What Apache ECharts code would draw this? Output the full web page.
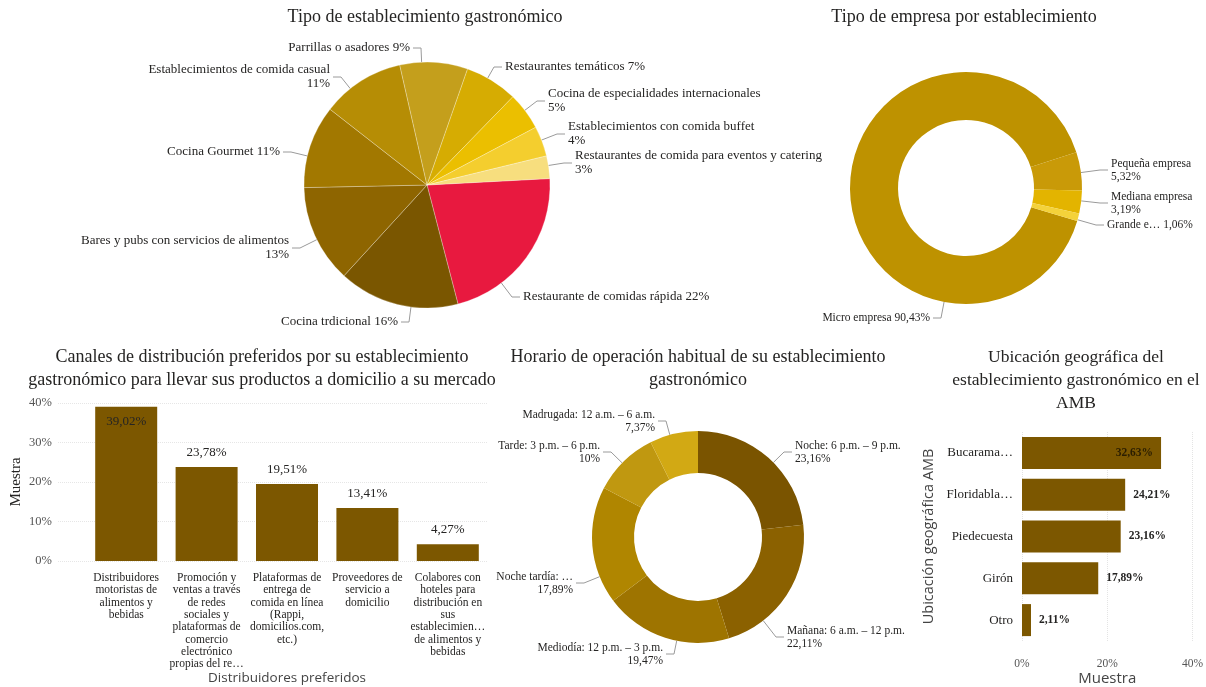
<!DOCTYPE html>
<html>
<head>
<meta charset="utf-8">
<script src="https://cdn.jsdelivr.net/npm/echarts@6/dist/echarts.min.js"></script>
<style>
  html, body { margin: 0; padding: 0; background: #fff; }
  #main { width: 1206px; height: 687px; }
</style>
</head>
<body>
<div id="main"></div>
<script>
const SERIF = '"Liberation Serif", "Times New Roman", serif';
const SANS = '"Open Sans", "Noto Sans", sans-serif';
const TXT = '#252423';

// Tipo de establecimiento gastronómico
const tipoNombres = ['Restaurante de comidas rápida', 'Cocina trdicional', 'Bares y pubs con servicios de alimentos',
  'Cocina Gourmet', 'Establecimientos de comida casual', 'Parrillas o asadores', 'Restaurantes temáticos',
  'Cocina de especialidades internacionales', 'Establecimientos con comida buffet',
  'Restaurantes de comida para eventos y catering'];
const tipoValores = [22, 16, 13, 11, 11, 9, 7, 5, 4, 3];
const tipoDosLineas = ['Bares y pubs con servicios de alimentos', 'Establecimientos de comida casual',
  'Cocina de especialidades internacionales', 'Establecimientos con comida buffet',
  'Restaurantes de comida para eventos y catering'];

// Tipo de empresa por establecimiento
const empresaNombres = ['Micro empresa', 'Pequeña empresa', 'Mediana empresa', 'Grande e…'];
const empresaValores = [90.43, 5.32, 3.19, 1.06];
const empresaDosLineas = ['Pequeña empresa', 'Mediana empresa'];

// Canales de distribución
const canalNombres = ['Distribuidores\nmotoristas de\nalimentos y\nbebidas',
  'Promoción y\nventas a través\nde redes\nsociales y\nplataformas de\ncomercio\nelectrónico\npropias del re…',
  'Plataformas de\nentrega de\ncomida en línea\n(Rappi,\ndomicilios.com,\netc.)',
  'Proveedores de\nservicio a\ndomicilio',
  'Colabores con\nhoteles para\ndistribución en\nsus\nestablecimien…\nde alimentos y\nbebidas'];
const canalValores = [39.02, 23.78, 19.51, 13.41, 4.27];

// Horario de operación
const horarioNombres = ['Noche: 6 p.m. – 9 p.m.', 'Mañana: 6 a.m. – 12 p.m.', 'Mediodía: 12 p.m. – 3 p.m.',
  'Noche tardía: …', 'Tarde: 3 p.m. – 6 p.m.', 'Madrugada: 12 a.m. – 6 a.m.'];
const horarioValores = [23.16, 22.11, 19.47, 17.89, 10, 7.37];

// Ubicación geográfica
const ubicNombres = ['Bucarama…', 'Floridabla…', 'Piedecuesta', 'Girón', 'Otro'];
const ubicValores = [32.63, 24.21, 23.16, 17.89, 2.11];
const ubicTicks = [0, 20, 40];

const coloresTipo = ['#E8193F', '#7A5600', '#8E6500', '#A27800', '#B68D05', '#C49F1C',
  '#D6AC02', '#EBBF00', '#F4CE2E', '#F7DE7E'];
const coloresEmpresa = ['#BE9200', '#C99A08', '#E3B400', '#F4D23A'];
const coloresHorario = ['#7A5400', '#8B6100', '#9E7400', '#B08600', '#C09810', '#D2A914'];
const marron = '#7C5700';

const pct = v => String(v).replace('.', ',') + '%';

// pie geometry and where each label sits (x, y, align)
const pie1 = { c: [427, 185], r: 123 };
const pie1Labels = [[523, 297, 'left'], [398, 322, 'right'], [289, 248, 'right'], [280, 152, 'right'],
  [330, 77, 'right'], [410, 48, 'right'], [505, 67, 'left'], [548, 101, 'left'], [568, 134, 'left'], [575, 163, 'left']];
const pie2 = { c: [966, 188], r: 116 };
const pie2Labels = [[930, 318, 'right'], [1111, 170, 'left'], [1111, 203, 'left'], [1107, 225, 'left']];
const pie3 = { c: [698, 537], r: 106 };
const pie3Labels = [[795, 452, 'left'], [787, 637, 'left'], [663, 654, 'right'], [573, 583, 'right'],
  [600, 452, 'right'], [655, 421, 'right']];

function placer(geo, spots) {
  return function (p) {
    const [x, y, align] = spots[p.dataIndex];
    const s = align === 'right' ? 1 : -1;
    const bend = [x + s * 11, y];
    const dx = bend[0] - geo.c[0], dy = bend[1] - geo.c[1];
    const d = Math.sqrt(dx * dx + dy * dy);
    const anchor = [geo.c[0] + dx / d * geo.r, geo.c[1] + dy / d * geo.r];
    return { x, y, align, verticalAlign: 'middle', labelLinePoints: [anchor, bend, [x + s * 3, y]] };
  };
}

const chart = echarts.init(document.getElementById('main'));

const titleStyle = { fontFamily: SERIF, fontSize: 18, fontWeight: 'normal', color: TXT, lineHeight: 23 };
const lineStyle = { lineStyle: { color: '#9a9a9a', width: 1 } };

chart.setOption({
  animation: false,
  title: [
    { text: 'Tipo de establecimiento gastronómico', left: 425, top: 6, padding: 0, textAlign: 'center', textStyle: titleStyle },
    { text: 'Tipo de empresa por establecimiento', left: 964, top: 6, padding: 0, textAlign: 'center', textStyle: titleStyle },
    { text: 'Canales de distribución preferidos por su establecimiento\ngastronómico para llevar sus productos a domicilio a su mercado',
      left: 262, top: 346, padding: 0, textAlign: 'center', textStyle: titleStyle },
    { text: 'Horario de operación habitual de su establecimiento\ngastronómico',
      left: 698, top: 346, padding: 0, textAlign: 'center', textStyle: titleStyle },
    { text: 'Ubicación geográfica del\nestablecimiento gastronómico en el\nAMB',
      left: 1076, top: 346, padding: 0, textAlign: 'center', textStyle: Object.assign({}, titleStyle, { fontSize: 17.5 }) }
  ],
  grid: [
    { left: 58, right: 718, top: 403, bottom: 126 },
    { left: 86, right: 718, top: 403, bottom: 126 },
    { left: 1022, right: 4, top: 432, bottom: 46 }
  ],
  xAxis: [
    { gridIndex: 0, type: 'category', data: [], show: false },
    { gridIndex: 1, type: 'category', data: canalNombres,
      name: 'Distribuidores preferidos', nameLocation: 'middle', nameGap: 108,
      nameTextStyle: { fontFamily: SANS, fontSize: 13.5, color: '#444' },
      axisLine: { show: false }, axisTick: { show: false },
      axisLabel: { interval: 0, margin: 11, fontFamily: SERIF, fontSize: 11.5, color: TXT, lineHeight: 12.3, verticalAlign: 'top' } },
    { gridIndex: 2, type: 'value', min: 0, max: 40, interval: 20,
      name: 'Muestra', nameLocation: 'middle', nameGap: 30,
      nameTextStyle: { fontFamily: SANS, fontSize: 15, color: '#444' },
      axisLine: { show: false }, axisTick: { show: false },
      axisLabel: { margin: 17, fontFamily: SERIF, fontSize: 11.5, color: '#555', formatter: '{value}%',
        customValues: ubicTicks },
      splitLine: { show: true, lineStyle: { color: '#e4e4e4', type: 'dotted' } } }
  ],
  yAxis: [
    { gridIndex: 0, type: 'value', min: 0, max: 40, interval: 10,
      name: 'Muestra', nameLocation: 'middle', nameGap: 34,
      nameTextStyle: { fontFamily: SERIF, fontSize: 15, color: TXT },
      axisLine: { show: false }, axisTick: { show: false },
      axisLabel: { margin: 6, fontFamily: SERIF, fontSize: 12.5, color: '#555', formatter: '{value}%' },
      splitLine: { lineStyle: { color: '#e6e6e6', type: 'dotted' } } },
    { gridIndex: 1, type: 'value', min: 0, max: 40, interval: 10, show: false },
    { gridIndex: 2, type: 'category', data: ubicNombres, inverse: true,
      name: 'Ubicación geográfica AMB', nameLocation: 'middle', nameGap: 86,
      nameTextStyle: { fontFamily: SANS, fontSize: 14.5, color: '#444' },
      axisLine: { show: false }, axisTick: { show: false },
      axisLabel: { margin: 9, fontFamily: SERIF, fontSize: 13, color: TXT } }
  ],
  series: [
    {
      type: 'pie', center: pie1.c, radius: pie1.r, startAngle: 3, clockwise: true,
      data: tipoNombres.map((n, i) => ({ name: n, value: tipoValores[i], itemStyle: { color: coloresTipo[i] } })),
      itemStyle: { borderColor: 'rgba(255,255,255,0.45)', borderWidth: 0.6 },
      label: { formatter: p => p.name + (tipoDosLineas.includes(p.name) ? '\n' : ' ') + p.value + '%',
        fontFamily: SERIF, fontSize: 13, color: TXT, lineHeight: 14, overflow: 'none' },
      labelLine: lineStyle,
      labelLayout: placer(pie1, pie1Labels)
    },
    {
      type: 'pie', center: pie2.c, radius: [68, pie2.r], startAngle: 343.5,
      data: empresaNombres.map((n, i) => ({ name: n, value: empresaValores[i], itemStyle: { color: coloresEmpresa[i] } })),
      label: { formatter: p => p.name + (empresaDosLineas.includes(p.name) ? '\n' : ' ') + pct(p.value),
        fontFamily: SERIF, fontSize: 11.5, color: TXT, lineHeight: 13, overflow: 'none' },
      labelLine: lineStyle,
      labelLayout: placer(pie2, pie2Labels)
    },
    {
      type: 'bar', xAxisIndex: 1, yAxisIndex: 1, barWidth: 62,
      data: canalValores.map(v => ({ value: v, label: { position: v > 35 ? 'insideTop' : 'top' } })),
      itemStyle: { color: marron },
      label: { show: true, formatter: p => pct(p.value), fontFamily: SERIF, fontSize: 13, color: TXT, distance: 8 }
    },
    {
      type: 'pie', center: pie3.c, radius: [64, pie3.r], startAngle: 90,
      data: horarioNombres.map((n, i) => ({ name: n, value: horarioValores[i], itemStyle: { color: coloresHorario[i] } })),
      label: { formatter: p => p.name + '\n' + pct(p.value),
        fontFamily: SERIF, fontSize: 11.5, color: TXT, lineHeight: 13, overflow: 'none' },
      labelLine: lineStyle,
      labelLayout: placer(pie3, pie3Labels)
    },
    {
      type: 'bar', xAxisIndex: 2, yAxisIndex: 2, barWidth: 32,
      data: ubicValores.map(v => ({ value: v, label: v > 30 ? { position: 'insideRight', color: '#2b1e00' } : {} })),
      itemStyle: { color: marron },
      label: { show: true, position: 'right', formatter: p => pct(p.value), fontFamily: SERIF, fontSize: 11.5,
        fontWeight: 'bold', color: TXT, distance: 8 }
    }
  ]
});
</script>
</body>
</html>
